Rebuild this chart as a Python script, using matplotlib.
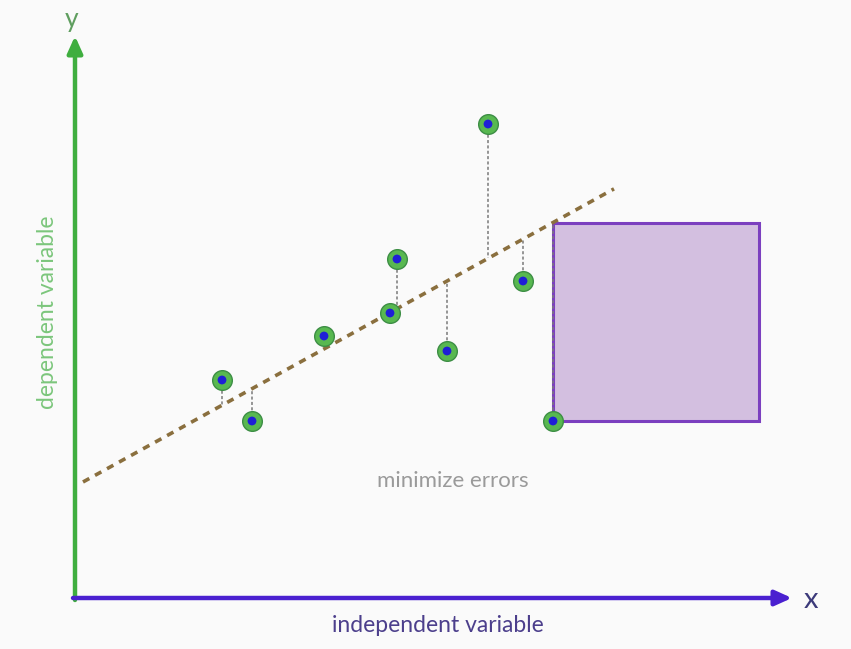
import matplotlib
matplotlib.use("Agg")
import matplotlib.pyplot as plt
from matplotlib.patches import Rectangle

# data points (x, y) in chart units, origin at the axes corner
xs = [147, 177, 249, 315, 322, 372, 413, 448, 478]
ys = [218, 177, 262, 285, 339, 247, 474, 317, 177]

# fitted line
intercept = 111.6
slope = 0.552
line_x = [8, 539]

# points with a drawn residual line (index into xs/ys)
resid_idx = [0, 1, 4, 5, 6, 7, 8]
square_idx = 8

plt.rcParams['font.family'] = ['Lato', 'DejaVu Sans']

fig = plt.figure(figsize=(8.51, 6.49), dpi=100)
fig.patch.set_facecolor('#fafafa')
ax = fig.add_axes([0, 0, 1, 1])
ax.set_facecolor('#fafafa')
ax.set_xlim(-75, 776)
ax.set_ylim(-51, 598)
ax.axis('off')

def fit(x):
    return intercept + slope * x

# square on the last residual
sx, sy = xs[square_idx], ys[square_idx]
side = fit(sx) - sy
ax.add_patch(Rectangle((sx, sy), side * 1.04, side, facecolor='#d3bfe0',
                       edgecolor='#7b3fbf', lw=2.2, zorder=2))

# residual lines
for i in resid_idx:
    ax.plot([xs[i], xs[i]], [ys[i], fit(xs[i])], color='#7a7a7a', lw=1.1,
            ls=(0, (2, 1.5)), zorder=3)

# regression line
ax.plot(line_x, [fit(v) for v in line_x], color='#8a6f3e', lw=2.6,
        ls=(0, (2.0, 1.8)), zorder=4)

# points
ax.scatter(xs, ys, s=200, color='#58b850', edgecolors='#3d8e45', linewidths=1.0, zorder=5)
ax.scatter(xs, ys, s=40, color='#1f1fd6', edgecolors='none', zorder=6)

# axes arrows
ax.annotate('', xy=(0, 562), xytext=(0, -2),
            arrowprops=dict(arrowstyle='-|>,head_length=1.0,head_width=0.45',
                            color='#3fae3f', lw=3.2, shrinkA=0, shrinkB=0))
ax.annotate('', xy=(717, 0), xytext=(-2, 0),
            arrowprops=dict(arrowstyle='-|>,head_length=1.0,head_width=0.45',
                            color='#4a20d0', lw=3.2, shrinkA=0, shrinkB=0))

# labels
ax.text(-3, 578, 'y', color='#5f9e5f', fontsize=19, ha='center', va='center')
ax.text(736, -2, 'x', color='#3c3a7a', fontsize=21, ha='center', va='center')
ax.text(-27, 286, 'dependent variable', color='#7cc67c', fontsize=16.5,
        rotation=90, ha='center', va='center')
ax.text(363, -27, 'independent variable', color='#4c3f8c', fontsize=16.5,
        ha='center', va='center')
ax.text(378, 117, 'minimize errors', color='#9a9a9a', fontsize=16,
        ha='center', va='center')

fig.savefig('out.png', dpi=100, facecolor=fig.get_facecolor())
